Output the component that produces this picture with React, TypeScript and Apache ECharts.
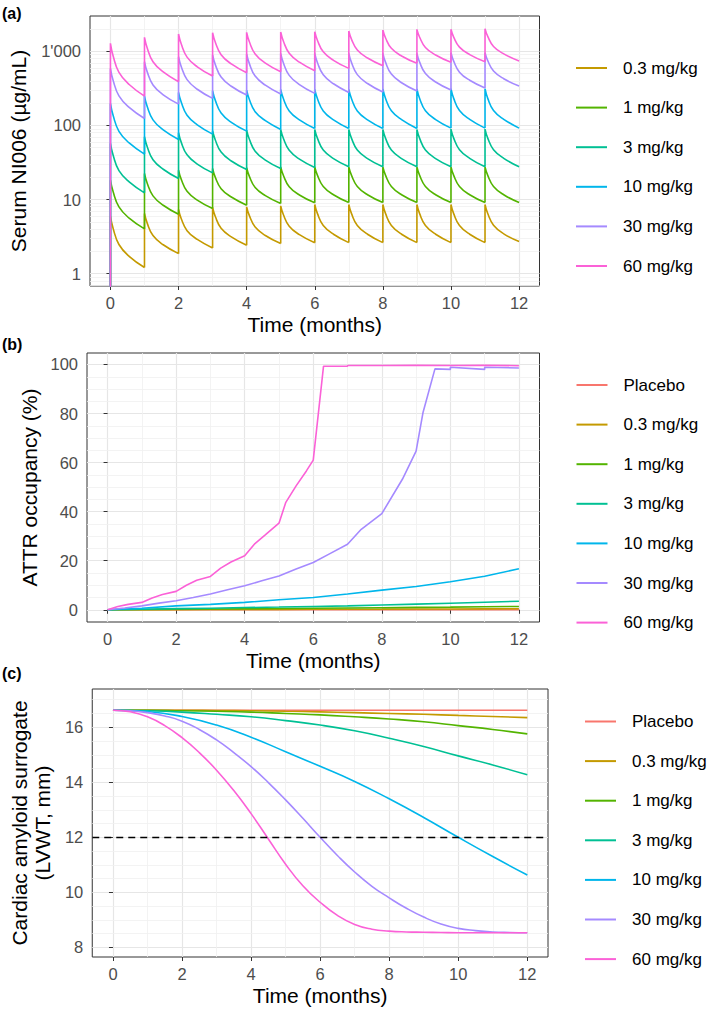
import React, { useEffect, useRef } from "react";
import * as echarts from "echarts";

const FONT = '"Liberation Sans", Arial, Helvetica, sans-serif';

const NAMES = ["Placebo", "0.3 mg/kg", "1 mg/kg", "3 mg/kg", "10 mg/kg", "30 mg/kg", "60 mg/kg"];
const COLORS = ["#F8766D", "#C49A00", "#53B400", "#00C094", "#00B6EB", "#A58AFF", "#FB61D7"];

const X_TICKS = [0, 2, 4, 6, 8, 10, 12];
const X_MINOR = [1, 3, 5, 7, 9, 11];

// ---------- Panel (a): serum NI006 (µg/mL), log scale ----------
// first value: pre-dose at t=0, then per monthly cycle: peak, +0.08, +0.25, +0.55, trough
const A_TICKS = [1, 10, 100, 1000];
const A_MINOR = [0.7, 0.8, 0.9, 2, 3, 4, 5, 6, 7, 8, 9, 20, 30, 40, 50, 60, 70, 80, 90, 200, 300, 400, 500, 600, 700, 800, 900, 2000];
const A_TIME = [0,
  0, 0.08, 0.25, 0.55, 1,
  1, 1.08, 1.25, 1.55, 2,
  2, 2.08, 2.25, 2.55, 3,
  3, 3.08, 3.25, 3.55, 4,
  4, 4.08, 4.25, 4.55, 5,
  5, 5.08, 5.25, 5.55, 6,
  6, 6.08, 6.25, 6.55, 7,
  7, 7.08, 7.25, 7.55, 8,
  8, 8.08, 8.25, 8.55, 9,
  9, 9.08, 9.25, 9.55, 10,
  10, 10.08, 10.25, 10.55, 11,
  11, 11.08, 11.25, 11.55, 12];
const A_03 = [0.01,
  5.96, 4.06, 2.47, 1.71, 1.21,
  6.47, 4.8, 3.26, 2.45, 1.86,
  7.33, 5.5, 3.8, 2.89, 2.22,
  7.8, 5.89, 4.09, 3.13, 2.41,
  7.96, 6.05, 4.25, 3.27, 2.54,
  8.21, 6.23, 4.36, 3.35, 2.6,
  8.56, 6.44, 4.47, 3.4, 2.62,
  8.56, 6.44, 4.47, 3.4, 2.62,
  8.56, 6.44, 4.47, 3.4, 2.62,
  8.56, 6.44, 4.47, 3.4, 2.62,
  8.56, 6.44, 4.47, 3.4, 2.62,
  8.56, 6.46, 4.5, 3.44, 2.71];
const A_1 = [0.01,
  18.2, 12.7, 7.94, 5.6, 4.01,
  22.5, 16.6, 11.2, 8.37, 6.34,
  24.9, 18.7, 12.9, 9.83, 7.56,
  26.2, 19.9, 14.0, 10.8, 8.38,
  26.8, 20.5, 14.5, 11.3, 8.83,
  27.6, 21.1, 14.9, 11.5, 9.02,
  27.6, 21.2, 15.0, 11.6, 9.11,
  27.6, 21.2, 15.0, 11.6, 9.11,
  27.6, 21.2, 15.0, 11.6, 9.11,
  27.6, 21.2, 15.0, 11.6, 9.11,
  27.6, 21.2, 15.0, 11.6, 9.11,
  27.6, 21.2, 15.0, 11.6, 9.11];
const A_3 = [0.01,
  57.1, 39.5, 24.5, 17.3, 12.3,
  70.3, 51.5, 34.4, 25.6, 19.2,
  79.6, 59.0, 40.1, 30.1, 22.9,
  84.7, 63.5, 43.7, 33.1, 25.4,
  86.5, 65.0, 44.9, 34.1, 26.2,
  88.3, 66.5, 46.1, 35.1, 27.1,
  88.3, 66.8, 46.6, 35.7, 27.6,
  88.3, 66.8, 46.6, 35.7, 27.6,
  88.3, 66.8, 46.6, 35.7, 27.6,
  88.3, 66.8, 46.6, 35.7, 27.6,
  89.2, 67.3, 47.0, 36.0, 27.6,
  89.2, 67.3, 47.0, 36.0, 27.6];
const A_10 = [0.01,
  198, 136, 83.3, 58.0, 41.0,
  249, 180, 119, 87.0, 64.7,
  279, 205, 137, 102, 76.4,
  294, 218, 147, 110, 83.8,
  300, 224, 153, 116, 88.3,
  306, 229, 157, 119, 91.1,
  306, 229, 157, 119, 91.1,
  306, 229, 157, 119, 91.1,
  310, 231, 158, 120, 91.1,
  310, 231, 158, 120, 92,
  313, 232, 159, 121, 92,
  313, 232, 159, 121, 92];
const A_30 = [0.01,
  589, 405, 250, 175, 124,
  725, 528, 351, 259, 194,
  847, 621, 415, 308, 232,
  892, 662, 450, 338, 257,
  920, 683, 464, 349, 265,
  940, 697, 474, 356, 271,
  940, 702, 482, 365, 279,
  940, 705, 485, 368, 282,
  940, 709, 493, 377, 291,
  940, 714, 501, 386, 300,
  959, 738, 524, 407, 320,
  959, 748, 542, 427, 340];
const A_60 = [0.01,
  1283, 865, 521, 357, 249,
  1545, 1111, 723, 527, 389,
  1714, 1253, 836, 618, 464,
  1786, 1326, 901, 677, 515,
  1806, 1346, 921, 695, 531,
  1824, 1368, 942, 714, 548,
  1845, 1403, 985, 757, 589,
  1883, 1453, 1040, 812, 640,
  1942, 1514, 1098, 865, 689,
  1983, 1549, 1127, 891, 710,
  1983, 1557, 1140, 904, 725,
  2024, 1589, 1164, 923, 740];

// ---------- Panel (b): ATTR occupancy (%) ----------
const B_TICKS = [0, 20, 40, 60, 80, 100];
const B_MINOR = [5, 10, 15, 25, 30, 35, 45, 50, 55, 65, 70, 75, 85, 90, 95];
const B_TIME = [0, 1, 2, 3, 4, 5, 6, 7, 8, 9, 10, 11, 12];
const B_PLACEBO = [0, 0, 0, 0, 0, 0, 0, 0, 0, 0, 0, 0, 0];
const B_03 = [0, 0.03, 0.06, 0.1, 0.13, 0.16, 0.2, 0.23, 0.26, 0.3, 0.33, 0.37, 0.4];
const B_1 = [0, 0.1, 0.2, 0.3, 0.4, 0.5, 0.6, 0.72, 0.84, 0.96, 1.08, 1.22, 1.36];
const B_3 = [0, 0.2, 0.45, 0.65, 0.9, 1.1, 1.35, 1.6, 1.95, 2.3, 2.65, 3.05, 3.5];
const B_10 = [0, 0.6, 1.6, 2.2, 3.0, 4.1, 5.0, 6.4, 8.0, 9.5, 11.4, 13.7, 16.7];
const B_30_TIME = [0, 0.5, 1, 1.5, 2, 2.5, 3, 3.5, 4, 4.5, 5, 5.5, 6, 6.5, 7, 7.4, 8, 8.6, 9, 9.2, 9.55, 10, 10, 11, 11, 12];
const B_30 = [0, 0.7, 1.6, 2.7, 3.7, 5.0, 6.4, 8.2, 9.8, 11.8, 13.8, 16.6, 19.3, 23, 26.7, 32.8, 39.2, 53.2, 64.7, 80.3, 98.2, 98.0, 98.9, 98.0, 98.9, 98.6];
const B_60_TIME = [0, 0.3, 0.6, 1, 1.3, 1.6, 2, 2.3, 2.6, 3, 3.3, 3.6, 4, 4.3, 4.6, 5, 5.2, 5.5, 5.8, 6, 6.3, 7, 7, 8, 9, 10, 11, 12];
const B_60 = [0, 1.3, 2.2, 3.0, 4.8, 6.2, 7.5, 10, 12, 13.6, 17, 19.5, 22, 27, 30.5, 35.3, 43.8, 50.5, 56.6, 61, 99.3, 99.3, 99.6, 99.6, 99.7, 99.6, 99.7, 99.5];

// ---------- Panel (c): cardiac amyloid surrogate (LVWT, mm) ----------
const C_TICKS = [8, 10, 12, 14, 16];
const C_MINOR = [8.5, 9, 9.5, 10.5, 11, 11.5, 12.5, 13, 13.5, 14.5, 15, 15.5, 16.5, 17];
const C_THRESHOLD = 12;
const C_TIME = [0, 1, 2, 3, 4, 5, 6, 7, 8, 9, 10, 11, 12];
const C_TIME_HALF = [0, 0.5, 1, 1.5, 2, 2.5, 3, 3.5, 4, 4.5, 5, 5.5, 6, 6.5, 7, 7.5, 8, 8.5, 9, 9.5, 10, 10.5, 11, 11.5, 12];
const C_PLACEBO = [16.62, 16.62, 16.62, 16.62, 16.62, 16.62, 16.62, 16.62, 16.62, 16.62, 16.62, 16.62, 16.62];
const C_03 = [16.62, 16.62, 16.62, 16.61, 16.6, 16.58, 16.56, 16.53, 16.5, 16.47, 16.43, 16.39, 16.35];
const C_1 = [16.62, 16.62, 16.6, 16.58, 16.55, 16.5, 16.45, 16.38, 16.3, 16.2, 16.06, 15.92, 15.76];
const C_3 = [16.62, 16.6, 16.55, 16.47, 16.38, 16.24, 16.08, 15.87, 15.6, 15.3, 14.96, 14.63, 14.27];
const C_10 = [16.62, 16.57, 16.39, 16.08, 15.64, 15.11, 14.58, 14.03, 13.4, 12.72, 12.0, 11.3, 10.63];
const C_30 = [16.62, 16.6, 16.53, 16.41, 16.22, 15.92, 15.54, 15.08, 14.57, 13.99, 13.36, 12.69, 12.0, 11.34, 10.74, 10.22, 9.8, 9.42, 9.1, 8.85, 8.69, 8.61, 8.56, 8.54, 8.53];
const C_60 = [16.62, 16.56, 16.38, 16.06, 15.62, 15.08, 14.44, 13.7, 12.86, 11.94, 11.02, 10.24, 9.64, 9.16, 8.83, 8.66, 8.59, 8.56, 8.55, 8.54, 8.53, 8.53, 8.53, 8.53, 8.53];

const pairs = (xs: number[], ys: number[]) => xs.map((x, i) => [x, ys[i]]);

// splits the dosing profile into the vertical dose jumps and the decay curves,
// so only the decay curves get smoothed
function dosingSegments(xs: number[], ys: number[]) {
  const out: any[] = [[xs[0], ys[0]], [xs[1], ys[1]], [xs[1], null]];
  const cycles = (xs.length - 1) / 5;
  for (let k = 0; k < cycles; k++) {
    const s = 1 + 5 * k;
    for (let j = 0; j < 5; j++) out.push([xs[s + j], ys[s + j]]);
    if (k < cycles - 1) {
      out.push([xs[s + 4], null], [xs[s + 4], ys[s + 4]], [xs[s + 5], ys[s + 5]], [xs[s + 5], null]);
    }
  }
  return out;
}

function lineSeries(name: string, gi: number, data: any[], smooth: number | false = false) {
  const color = COLORS[NAMES.indexOf(name)];
  return {
    type: "line",
    name,
    xAxisIndex: gi,
    yAxisIndex: gi,
    data,
    symbol: "none",
    showSymbol: false,
    smooth,
    connectNulls: false,
    color,
    itemStyle: { color },
    lineStyle: { color, width: 1.6 },
    z: 3,
    silent: true,
    animation: false,
  };
}

function gridLines(gi: number, xs: number[], ys: number[]) {
  return {
    type: "line",
    xAxisIndex: gi,
    yAxisIndex: gi,
    data: [],
    z: 1,
    silent: true,
    animation: false,
    markLine: {
      z: 1,
      silent: true,
      animation: false,
      symbol: ["none", "none"],
      label: { show: false },
      emphasis: { disabled: true },
      lineStyle: { color: "#F0F0F0", width: 0.8, type: "solid" },
      data: [...xs.map((v) => ({ xAxis: v })), ...ys.map((v) => ({ yAxis: v }))],
    },
  };
}

const tickLabel = { fontSize: 16.5, color: "#4D4D4D", fontFamily: FONT };
const titleStyle = { fontSize: 21, color: "#000000", fontFamily: FONT };
const major = { show: true, lineStyle: { color: "#E6E6E6", width: 1.2 } };

function xAxis(gi: number) {
  return {
    type: "value",
    gridIndex: gi,
    min: -0.6,
    max: 12.6,
    name: "Time (months)",
    nameLocation: "middle",
    nameGap: 28,
    nameTextStyle: titleStyle,
    axisLine: { show: false },
    axisTick: { show: true, length: 4, lineStyle: { color: "#333333", width: 1 }, customValues: X_TICKS },
    axisLabel: { ...tickLabel, margin: 8, customValues: X_TICKS },
    splitLine: major,
  };
}

function yAxis(gi: number, extra: any) {
  return {
    gridIndex: gi,
    nameLocation: "middle",
    nameTextStyle: titleStyle,
    axisLine: { show: false },
    splitLine: major,
    ...extra,
    axisTick: { show: true, length: 4, lineStyle: { color: "#333333", width: 1 }, customValues: extra.ticks },
    axisLabel: { ...tickLabel, margin: 9, customValues: extra.ticks, ...(extra.fmt ? { formatter: extra.fmt } : {}) },
  };
}

function legend(names: string[], left: number, top: number) {
  return {
    data: names,
    orient: "vertical",
    left,
    top,
    padding: 0,
    icon: "rect",
    itemWidth: 31,
    itemHeight: 2,
    itemGap: 19.6,
    selectedMode: false,
    textStyle: { fontSize: 17, lineHeight: 20, color: "#000000", fontFamily: FONT, padding: [0, 0, 0, 11] },
  };
}

function buildOption() {
  const gridBase = { show: true, borderColor: "#333333", borderWidth: 1, backgroundColor: "#ffffff", containLabel: false };
  return {
    animation: false,
    backgroundColor: "#ffffff",
    textStyle: { fontFamily: FONT },
    grid: [
      { ...gridBase, left: 87, top: 16, right: 169.5, bottom: 727 },
      { ...gridBase, left: 87, top: 353, right: 169.5, bottom: 391 },
      { ...gridBase, left: 92, top: 689, right: 161, bottom: 56 },
    ],
    xAxis: [xAxis(0), xAxis(1), xAxis(2)],
    yAxis: [
      yAxis(0, {
        type: "log", logBase: 10, min: 0.68, max: 3000, ticks: A_TICKS,
        name: "Serum NI006 (\u00b5g/mL)", nameGap: 61,
        fmt: (v: number) => { const r = Math.round(v); return r === 1000 ? "1'000" : String(r); },
      }),
      yAxis(1, { type: "value", min: -4.985, max: 104.685, ticks: B_TICKS, name: "ATTR occupancy (%)", nameGap: 45 }),
      yAxis(2, { type: "value", min: 7.65, max: 17.39, ticks: C_TICKS, name: "Cardiac amyloid surrogate\n(LVWT, mm)", nameGap: 37, nameTextStyle: { ...titleStyle, lineHeight: 23 } }),
    ],
    legend: [
      legend(NAMES.slice(1), 576, 58),
      legend(NAMES, 576.5, 375),
      legend(NAMES, 585, 711.5),
    ],
    graphic: [
      { type: "text", left: 2, top: 5, style: { text: "(a)", font: `bold 16px ${FONT}`, fill: "#000" } },
      { type: "text", left: 2, top: 336, style: { text: "(b)", font: `bold 16px ${FONT}`, fill: "#000" } },
      { type: "text", left: 2, top: 665, style: { text: "(c)", font: `bold 16px ${FONT}`, fill: "#000" } },
    ],
    series: [
      gridLines(0, X_MINOR, A_MINOR),
      gridLines(1, X_MINOR, B_MINOR),
      gridLines(2, X_MINOR, C_MINOR),
      lineSeries("0.3 mg/kg", 0, dosingSegments(A_TIME, A_03), 0.45),
      lineSeries("1 mg/kg", 0, dosingSegments(A_TIME, A_1), 0.45),
      lineSeries("3 mg/kg", 0, dosingSegments(A_TIME, A_3), 0.45),
      lineSeries("10 mg/kg", 0, dosingSegments(A_TIME, A_10), 0.45),
      lineSeries("30 mg/kg", 0, dosingSegments(A_TIME, A_30), 0.45),
      lineSeries("60 mg/kg", 0, dosingSegments(A_TIME, A_60), 0.45),
      lineSeries("Placebo", 1, pairs(B_TIME, B_PLACEBO)),
      lineSeries("0.3 mg/kg", 1, pairs(B_TIME, B_03)),
      lineSeries("1 mg/kg", 1, pairs(B_TIME, B_1)),
      lineSeries("3 mg/kg", 1, pairs(B_TIME, B_3)),
      lineSeries("10 mg/kg", 1, pairs(B_TIME, B_10)),
      lineSeries("30 mg/kg", 1, pairs(B_30_TIME, B_30)),
      lineSeries("60 mg/kg", 1, pairs(B_60_TIME, B_60)),
      lineSeries("Placebo", 2, pairs(C_TIME, C_PLACEBO), 0.5),
      lineSeries("0.3 mg/kg", 2, pairs(C_TIME, C_03), 0.5),
      lineSeries("1 mg/kg", 2, pairs(C_TIME, C_1), 0.5),
      lineSeries("3 mg/kg", 2, pairs(C_TIME, C_3), 0.5),
      lineSeries("10 mg/kg", 2, pairs(C_TIME, C_10), 0.5),
      lineSeries("30 mg/kg", 2, pairs(C_TIME_HALF, C_30), 0.5),
      lineSeries("60 mg/kg", 2, pairs(C_TIME_HALF, C_60), 0.5),
      {
        type: "line",
        xAxisIndex: 2,
        yAxisIndex: 2,
        data: [],
        z: 4,
        silent: true,
        animation: false,
        markLine: {
          z: 4,
          silent: true,
          animation: false,
          symbol: ["none", "none"],
          label: { show: false },
          lineStyle: { color: "#000000", width: 1.3, type: [7, 5] },
          data: [{ yAxis: C_THRESHOLD }],
        },
      },
    ],
  };
}

export default function App() {
  const ref = useRef<HTMLDivElement>(null);
  useEffect(() => {
    if (!ref.current) return;
    const chart = echarts.init(ref.current, null, { renderer: "svg" });
    chart.setOption(buildOption() as any);
    return () => chart.dispose();
  }, []);
  return (
    <div
      ref={ref}
      style={{ position: "fixed", left: 0, top: 0, width: 709, height: 1013, background: "#ffffff" }}
    />
  );
}
